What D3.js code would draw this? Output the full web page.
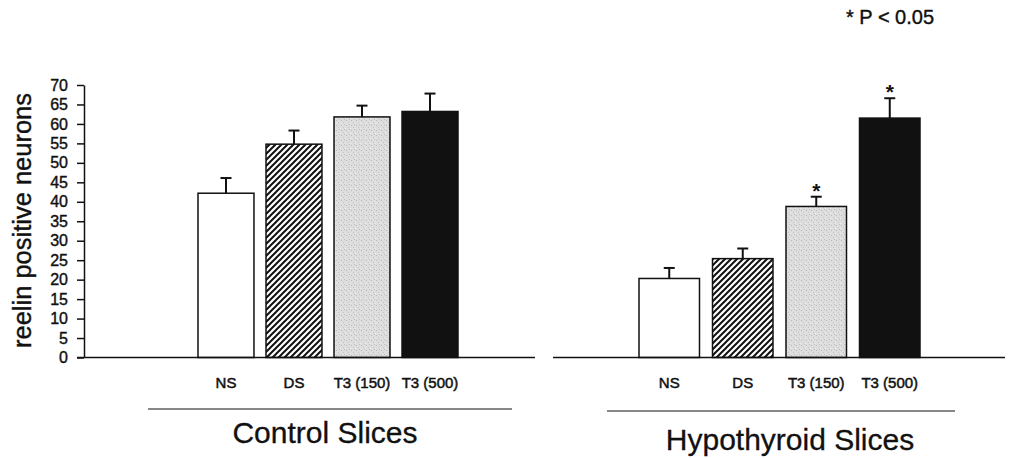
<!DOCTYPE html>
<html>
<head>
<meta charset="utf-8">
<script src="https://cdn.jsdelivr.net/npm/d3@7"></script>
<style>
  html, body { margin: 0; padding: 0; background: #fff; }
  svg { display: block; font-family: "Liberation Sans", Arial, sans-serif; }
</style>
</head>
<body>
<svg id="chart" width="1011" height="458"></svg>
<script>
// values
var categories = ['NS', 'DS', 'T3 (150)', 'T3 (500)'];
var controlMeans = [42.2, 54.8, 61.8, 63.2];
var controlSem = [3.9, 3.5, 2.9, 4.6];
var hypoMeans = [20.3, 25.4, 38.8, 61.5];
var hypoSem = [2.7, 2.6, 2.5, 5.1];
var hypoSignificant = [false, false, true, true];
var controlSignificant = [false, false, false, false];
var yTicks = [0, 5, 10, 15, 20, 25, 30, 35, 40, 45, 50, 55, 60, 65, 70];
var groupTitles = ['Control Slices', 'Hypothyroid Slices'];

var ink = '#111';
var svg = d3.select('#chart');
var defs = svg.append('defs');

// diagonal hatching for DS
var hatch = defs.append('pattern')
    .attr('id', 'hatch')
    .attr('patternUnits', 'userSpaceOnUse')
    .attr('width', 6).attr('height', 6);
hatch.append('rect').attr('width', 6).attr('height', 6).attr('fill', '#fff');
hatch.append('path')
    .attr('d', 'M-1.5,1.5 l3,-3 M0,6 l6,-6 M4.5,7.5 l3,-3')
    .attr('stroke', ink).attr('stroke-width', 2);

// grainy light grey for T3 (150)
var grain = defs.append('pattern')
    .attr('id', 'grain')
    .attr('patternUnits', 'userSpaceOnUse')
    .attr('width', 5).attr('height', 5);
grain.append('rect').attr('width', 5).attr('height', 5).attr('fill', '#dedede');
grain.append('rect').attr('x', 1).attr('y', 0).attr('width', 1).attr('height', 1).attr('fill', '#b8b8b8');
grain.append('rect').attr('x', 3).attr('y', 2).attr('width', 1).attr('height', 1).attr('fill', '#c4c4c4');
grain.append('rect').attr('x', 0).attr('y', 3).attr('width', 1).attr('height', 1).attr('fill', '#ececec');
grain.append('rect').attr('x', 4).attr('y', 4).attr('width', 1).attr('height', 1).attr('fill', '#bdbdbd');

var fills = ['#fff', 'url(#hatch)', 'url(#grain)', ink];

var y = d3.scaleLinear().domain([0, 70]).range([357.5, 85]);

// y axis (left panel only)
var yAxis = svg.append('g')
    .attr('transform', 'translate(84,0)')
    .call(d3.axisLeft(y).tickValues(yTicks).tickSize(7).tickSizeOuter(0).tickPadding(9));
yAxis.select('.domain').attr('stroke', ink).attr('stroke-width', 1.5);
yAxis.selectAll('.tick line').attr('stroke', ink).attr('stroke-width', 1.5);
yAxis.selectAll('.tick text')
    .attr('font-size', 16).attr('fill', ink)
    .attr('stroke', ink).attr('stroke-width', 0.4)
    .attr('font-family', '"Liberation Sans", Arial, sans-serif');

svg.append('text')
    .attr('transform', 'translate(31,220.5) rotate(-90)')
    .attr('text-anchor', 'middle')
    .attr('font-size', 26)
    .attr('textLength', 255)
    .attr('lengthAdjust', 'spacingAndGlyphs')
    .attr('fill', ink).attr('stroke', ink).attr('stroke-width', 0.4)
    .text('reelin positive neurons');

var panels = [
    { means: controlMeans, sem: controlSem, sig: controlSignificant, title: groupTitles[0],
      bars: [198, 458], axis: [77, 535], rule: [148, 512], ruleY: 409, titleX: 325, titleY: 443, labelY: 388 },
    { means: hypoMeans, sem: hypoSem, sig: hypoSignificant, title: groupTitles[1],
      bars: [639, 920], axis: [553, 1005], rule: [607, 955], ruleY: 411, titleX: 790, titleY: 450, labelY: 388 }
];

panels.forEach(function (p) {
    var x = d3.scaleBand().domain(categories).range(p.bars).paddingInner(0.177).paddingOuter(0);
    var rows = categories.map(function (c, i) {
        return { cat: c, mean: p.means[i], sem: p.sem[i], sig: p.sig[i], fill: fills[i] };
    });
    var g = svg.append('g');

    g.selectAll('rect.bar').data(rows).enter().append('rect')
        .attr('class', 'bar')
        .attr('x', function (d) { return x(d.cat); })
        .attr('y', function (d) { return y(d.mean); })
        .attr('width', x.bandwidth())
        .attr('height', function (d) { return y(0) - y(d.mean); })
        .attr('fill', function (d) { return d.fill; })
        .attr('stroke', ink).attr('stroke-width', 1.5);

    // upper error bars
    var cx = function (d) { return x(d.cat) + x.bandwidth() / 2; };
    g.selectAll('line.err').data(rows).enter().append('line')
        .attr('x1', cx).attr('x2', cx)
        .attr('y1', function (d) { return y(d.mean); })
        .attr('y2', function (d) { return y(d.mean + d.sem); })
        .attr('stroke', ink).attr('stroke-width', 2);
    g.selectAll('line.cap').data(rows).enter().append('line')
        .attr('x1', function (d) { return cx(d) - 5.5; })
        .attr('x2', function (d) { return cx(d) + 5.5; })
        .attr('y1', function (d) { return y(d.mean + d.sem); })
        .attr('y2', function (d) { return y(d.mean + d.sem); })
        .attr('stroke', ink).attr('stroke-width', 2);

    g.selectAll('text.star').data(rows.filter(function (d) { return d.sig; })).enter().append('text')
        .attr('x', cx)
        .attr('y', function (d) { return y(d.mean + d.sem) + 1; })
        .attr('text-anchor', 'middle')
        .attr('font-size', 21).attr('font-weight', 'bold').attr('fill', ink)
        .text('*');

    // baseline
    g.append('line')
        .attr('x1', p.axis[0]).attr('x2', p.axis[1])
        .attr('y1', y(0)).attr('y2', y(0))
        .attr('stroke', ink).attr('stroke-width', 1.5);

    g.selectAll('text.cat').data(rows).enter().append('text')
        .attr('x', cx).attr('y', p.labelY)
        .attr('text-anchor', 'middle')
        .attr('font-size', 15).attr('fill', ink)
        .attr('stroke', ink).attr('stroke-width', 0.5)
        .text(function (d) { return d.cat; });

    g.append('line')
        .attr('x1', p.rule[0]).attr('x2', p.rule[1])
        .attr('y1', p.ruleY).attr('y2', p.ruleY)
        .attr('stroke', ink).attr('stroke-width', 1.2);

    g.append('text')
        .attr('x', p.titleX).attr('y', p.titleY)
        .attr('text-anchor', 'middle')
        .attr('font-size', 30).attr('fill', ink)
        .attr('stroke', ink).attr('stroke-width', 0.3)
        .text(p.title);
});

svg.append('text')
    .attr('x', 846).attr('y', 24)
    .attr('font-size', 20).attr('fill', ink)
    .attr('stroke', ink).attr('stroke-width', 0.4)
    .text('* P < 0.05');
</script>
</body>
</html>
